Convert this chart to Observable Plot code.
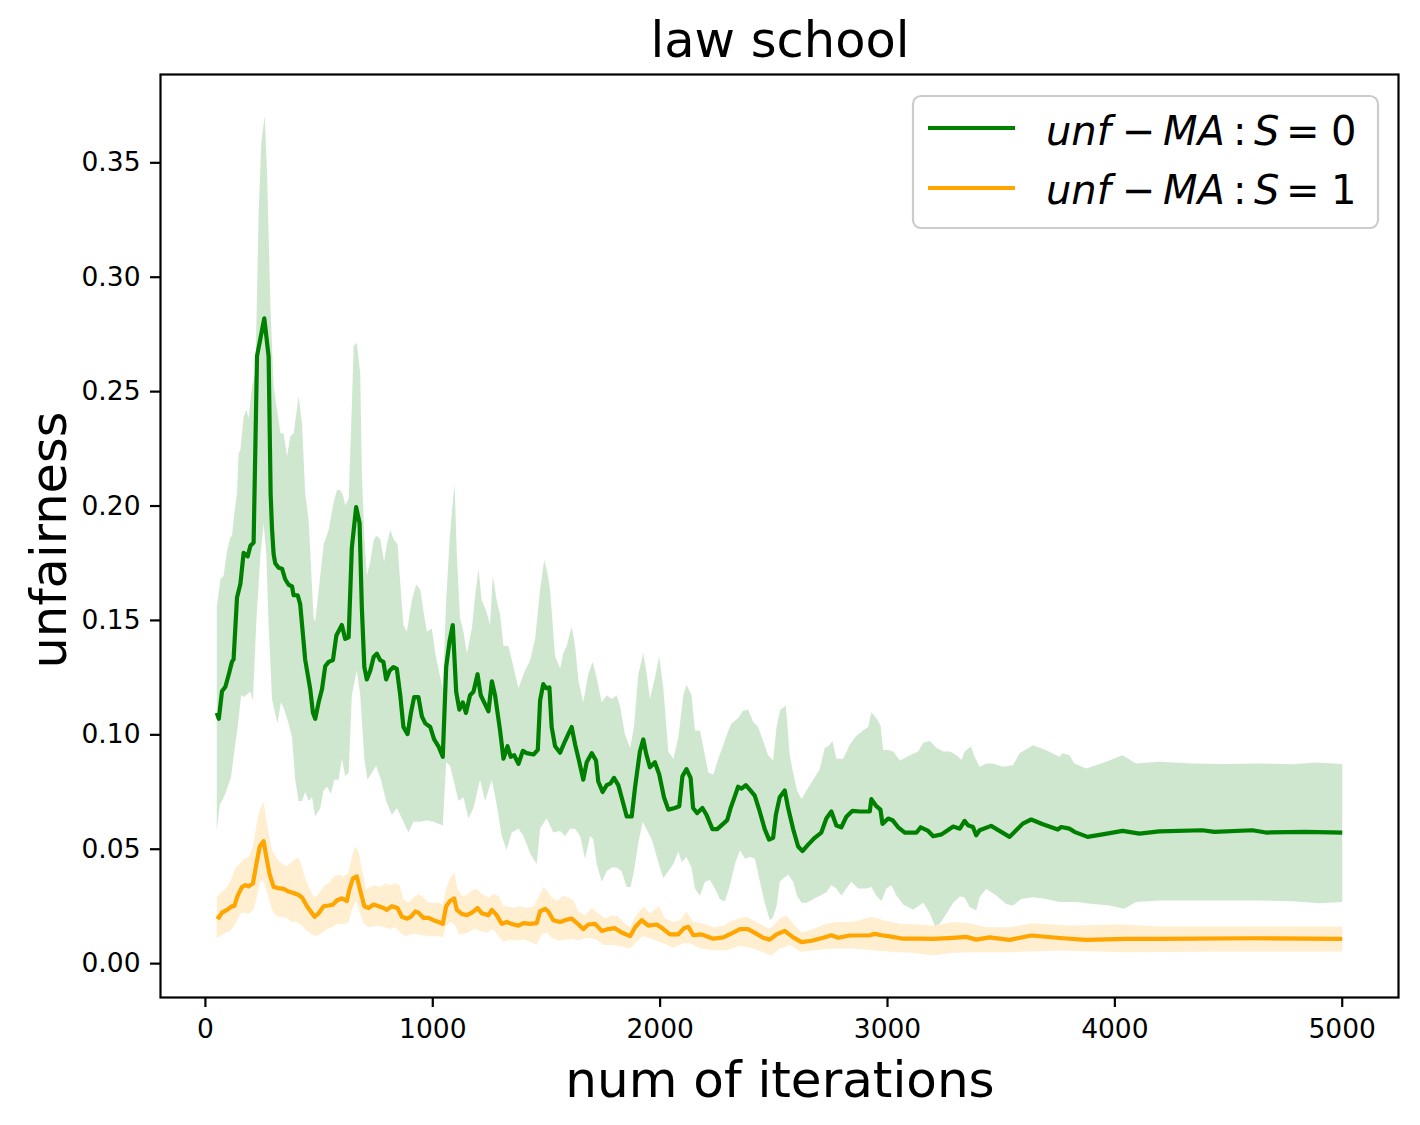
<!DOCTYPE html>
<html>
<head>
<meta charset="utf-8">
<script src="https://cdn.jsdelivr.net/npm/d3@7"></script>
<script src="https://cdn.jsdelivr.net/npm/@observablehq/plot@0.6"></script>
<style>
  html, body { margin: 0; padding: 0; background: white; }
  #wrap { position: relative; width: 1420px; height: 1125px; font-family: "DejaVu Sans", sans-serif; }
  #wrap svg.overlay { position: absolute; left: 0; top: 0; pointer-events: none; }
</style>
</head>
<body>
<div id="wrap"></div>
<script>
// ---- data ----
const greenIter = [50,59,73,88,103,117,124,139,154,168,186,198,212,227,259,278,287,293,300,307,322,337,351,366,381,388,406,417,439,461,473,483,498,513,527,542,561,576,600,615,630,644,663,678,688,699,710,725,740,754,769,783,795,810,827,842,857,871,889,904,918,937,952,967,989,1006,1025,1044,1059,1074,1088,1103,1117,1132,1146,1164,1179,1197,1211,1226,1245,1260,1274,1296,1311,1329,1343,1358,1377,1396,1413,1443,1462,1472,1486,1498,1513,1523,1538,1560,1582,1596,1611,1626,1641,1662,1677,1699,1718,1728,1747,1765,1782,1797,1816,1835,1853,1875,1890,1911,1926,1938,1955,1977,1996,2017,2036,2065,2084,2098,2116,2134,2145,2163,2186,2204,2230,2251,2277,2295,2310,2324,2343,2358,2377,2397,2416,2438,2460,2479,2497,2509,2526,2548,2563,2585,2607,2626,2651,2680,2709,2731,2753,2775,2797,2819,2846,2878,2922,2929,2951,2969,2978,3003,3022,3047,3076,3128,3146,3179,3201,3238,3260,3289,3318,3339,3354,3376,3390,3405,3456,3500,3537,3566,3595,3632,3683,3749,3764,3800,3822,3880,3946,4034,4108,4195,4386,4437,4605,4664,4840,5000];
const greenMean = [0.1096,0.107,0.119,0.121,0.1265,0.132,0.133,0.160,0.166,0.1795,0.178,0.1826,0.184,0.2655,0.282,0.2655,0.205,0.19,0.179,0.175,0.173,0.1726,0.168,0.1656,0.1649,0.161,0.161,0.157,0.1327,0.120,0.1096,0.107,0.1142,0.120,0.130,0.1319,0.1327,0.1434,0.148,0.1419,0.1426,0.1818,0.1995,0.1926,0.1557,0.1296,0.1242,0.128,0.134,0.1355,0.1326,0.1319,0.1242,0.128,0.1296,0.1288,0.1173,0.1034,0.1003,0.1096,0.1165,0.1165,0.1081,0.105,0.1034,0.098,0.095,0.0904,0.1296,0.1411,0.148,0.1188,0.111,0.1142,0.1096,0.1173,0.1188,0.1265,0.1173,0.1142,0.1103,0.1234,0.1173,0.1019,0.0896,0.095,0.0904,0.0911,0.0873,0.093,0.092,0.0914,0.0934,0.115,0.1222,0.1204,0.1207,0.1034,0.095,0.0922,0.0973,0.1003,0.1034,0.0958,0.0896,0.0804,0.088,0.092,0.0888,0.0796,0.075,0.078,0.0788,0.0812,0.078,0.0711,0.0643,0.0643,0.0773,0.0927,0.098,0.092,0.0858,0.088,0.0827,0.0727,0.0673,0.068,0.0688,0.0819,0.085,0.0812,0.068,0.0658,0.068,0.065,0.0588,0.0588,0.0611,0.0627,0.068,0.0719,0.0773,0.0765,0.078,0.0757,0.0734,0.0665,0.0588,0.0542,0.055,0.065,0.0727,0.0757,0.068,0.0588,0.0512,0.0492,0.052,0.055,0.0573,0.0634,0.0665,0.0604,0.0596,0.0642,0.0668,0.0665,0.0665,0.0719,0.0688,0.0673,0.0611,0.0634,0.0627,0.0596,0.0573,0.0573,0.0596,0.058,0.0557,0.0565,0.058,0.0599,0.059,0.0624,0.0605,0.0597,0.0561,0.0583,0.0602,0.0576,0.0554,0.0583,0.0612,0.063,0.0609,0.0586,0.0597,0.059,0.0576,0.0554,0.0565,0.058,0.0568,0.0578,0.0583,0.0576,0.0583,0.0573,0.0576,0.0573];

const greenHiIter = [50,66,80,95,110,117,126,139,146,154,168,180,190,205,220,234,246,261,271,286,300,315,330,344,359,373,388,410,425,439,454,476,483,498,520,527,542,564,579,593,605,615,630,644,652,666,681,688,699,710,725,740,751,769,786,798,813,827,845,857,871,886,908,927,945,959,974,996,1011,1030,1044,1059,1074,1088,1096,1106,1120,1135,1150,1172,1186,1201,1215,1235,1252,1264,1281,1296,1311,1333,1355,1377,1399,1428,1450,1472,1490,1504,1516,1538,1560,1574,1589,1611,1626,1641,1662,1684,1703,1721,1743,1765,1787,1809,1823,1845,1868,1885,1904,1926,1941,1955,1977,1996,2014,2036,2058,2080,2102,2116,2138,2153,2175,2197,2212,2234,2256,2278,2300,2314,2343,2363,2387,2409,2431,2453,2475,2497,2512,2529,2553,2570,2585,2602,2622,2644,2673,2702,2724,2739,2758,2775,2805,2834,2863,2893,2915,2929,2951,2969,2981,3003,3025,3055,3099,3135,3157,3186,3216,3245,3274,3304,3325,3339,3354,3368,3383,3405,3434,3464,3508,3552,3581,3640,3698,3757,3771,3800,3822,3874,3961,4034,4093,4195,4342,4488,4635,4782,4884,5000];
const greenHi = [0.1557,0.168,0.1695,0.1803,0.1864,0.187,0.196,0.2055,0.223,0.2245,0.239,0.242,0.2384,0.2523,0.258,0.328,0.359,0.3706,0.3457,0.2873,0.2523,0.242,0.2318,0.2318,0.2216,0.2304,0.2318,0.248,0.236,0.2055,0.194,0.151,0.1495,0.163,0.1833,0.185,0.1895,0.2018,0.207,0.207,0.2048,0.2002,0.2033,0.2435,0.27,0.2712,0.258,0.215,0.186,0.1695,0.1756,0.185,0.187,0.1856,0.1756,0.1833,0.1895,0.1856,0.1833,0.1664,0.148,0.145,0.1588,0.1657,0.1634,0.1542,0.145,0.1465,0.1357,0.1265,0.1204,0.1588,0.185,0.2018,0.2095,0.1787,0.151,0.145,0.1357,0.1465,0.1603,0.1726,0.1588,0.1542,0.148,0.1695,0.1588,0.1526,0.1388,0.1388,0.1296,0.1204,0.1265,0.1326,0.1419,0.1634,0.1764,0.171,0.1634,0.1342,0.129,0.1357,0.1388,0.1472,0.1388,0.1234,0.1142,0.1265,0.1319,0.1249,0.1142,0.1173,0.1157,0.1173,0.1127,0.1004,0.0942,0.1034,0.1265,0.1357,0.1265,0.1157,0.1249,0.1342,0.1203,0.0927,0.0896,0.0988,0.1173,0.1219,0.1173,0.1019,0.1019,0.0911,0.0834,0.0827,0.0896,0.0957,0.1019,0.105,0.1073,0.1104,0.1111,0.1057,0.1034,0.0973,0.0911,0.0888,0.1034,0.1111,0.1127,0.0911,0.0834,0.0758,0.0719,0.0758,0.0804,0.085,0.0942,0.0949,0.0973,0.0896,0.0896,0.0957,0.0996,0.1019,0.1034,0.1099,0.1073,0.1042,0.0934,0.0934,0.0927,0.0888,0.0911,0.0927,0.0965,0.0973,0.0942,0.0927,0.0927,0.0911,0.089,0.0926,0.094,0.0948,0.0904,0.086,0.0875,0.0875,0.086,0.0868,0.0919,0.0955,0.0933,0.0904,0.0919,0.0911,0.0875,0.0853,0.0882,0.0911,0.0875,0.0882,0.0875,0.0872,0.0875,0.0871,0.0879,0.0872];

const greenLoIter = [50,63,73,88,103,113,127,142,157,171,186,198,209,224,242,256,268,278,293,303,317,332,347,366,381,395,410,425,439,454,469,483,505,520,535,552,567,586,600,615,630,644,666,681,699,713,732,751,772,795,820,842,864,893,915,945,974,1003,1044,1059,1076,1091,1113,1135,1157,1179,1208,1230,1260,1281,1303,1325,1347,1377,1399,1428,1457,1472,1501,1530,1560,1582,1604,1626,1648,1670,1692,1706,1721,1743,1765,1787,1809,1831,1853,1870,1885,1904,1923,1944,1963,1977,1999,2014,2036,2058,2080,2095,2116,2138,2153,2175,2197,2219,2241,2263,2285,2307,2329,2351,2373,2395,2417,2439,2460,2483,2497,2512,2526,2543,2563,2585,2602,2622,2644,2673,2702,2731,2753,2775,2797,2819,2841,2871,2907,2929,2951,2973,2995,3017,3040,3069,3113,3157,3186,3208,3230,3260,3289,3318,3339,3361,3390,3405,3434,3478,3522,3552,3588,3640,3698,3757,3830,3903,3976,4042,4093,4195,4342,4488,4635,4782,4899,5000];
const greenLo = [0.0581,0.0696,0.0712,0.0742,0.0788,0.0819,0.0927,0.1034,0.1173,0.1165,0.118,0.1188,0.115,0.1495,0.1787,0.1925,0.1787,0.148,0.1157,0.111,0.105,0.1142,0.111,0.105,0.0988,0.0804,0.0711,0.0711,0.075,0.0711,0.0727,0.0643,0.068,0.0757,0.0773,0.0742,0.0804,0.0804,0.0896,0.0819,0.0834,0.1173,0.128,0.1173,0.0896,0.0804,0.0834,0.0865,0.0804,0.0711,0.065,0.068,0.0635,0.0573,0.062,0.062,0.0627,0.062,0.0604,0.088,0.0865,0.0804,0.0711,0.0727,0.0635,0.068,0.0804,0.0711,0.0804,0.0696,0.0558,0.0497,0.0573,0.0589,0.0558,0.0481,0.0435,0.0589,0.0635,0.0573,0.058,0.0558,0.0589,0.0589,0.0558,0.0458,0.0558,0.0542,0.0435,0.0358,0.0404,0.042,0.042,0.0404,0.0335,0.0335,0.0404,0.0527,0.062,0.0581,0.0542,0.0496,0.042,0.0374,0.0404,0.0435,0.0489,0.0443,0.0466,0.042,0.0328,0.0297,0.0358,0.0366,0.0328,0.0281,0.0273,0.0343,0.0435,0.0496,0.0458,0.0466,0.0458,0.0358,0.0266,0.0189,0.0204,0.025,0.0358,0.0374,0.0389,0.0358,0.0297,0.0266,0.0266,0.0281,0.0297,0.0312,0.0343,0.0328,0.0297,0.0328,0.0358,0.0328,0.0328,0.0335,0.0297,0.0273,0.0328,0.0343,0.0297,0.0258,0.0235,0.0266,0.022,0.0166,0.0174,0.022,0.0266,0.0293,0.029,0.0247,0.0232,0.029,0.0327,0.0298,0.0261,0.0254,0.0283,0.029,0.0283,0.0269,0.0269,0.0261,0.0254,0.024,0.0269,0.0276,0.0276,0.0276,0.0276,0.0273,0.0264,0.0269];

const orangeIter = [50,59,73,95,117,127,142,161,176,190,209,224,239,256,268,283,300,322,344,366,388,410,425,447,469,480,498,520,542,561,579,600,622,634,649,666,681,699,718,740,762,784,798,820,845,864,886,904,923,937,959,981,1003,1025,1044,1059,1076,1094,1106,1128,1150,1172,1197,1216,1245,1260,1281,1303,1325,1355,1377,1399,1428,1457,1472,1494,1508,1530,1560,1582,1611,1641,1662,1684,1714,1743,1772,1801,1831,1868,1890,1919,1948,1985,2014,2043,2080,2105,2124,2146,2182,2204,2234,2278,2321,2351,2387,2424,2453,2482,2512,2548,2585,2622,2666,2717,2753,2783,2834,2922,2944,2973,3003,3069,3142,3201,3289,3347,3390,3449,3537,3632,3757,3874,4049,4195,4605,5000];
const orangeMean = [0.0208,0.0201,0.0223,0.0235,0.0251,0.0251,0.0297,0.0335,0.0343,0.0338,0.035,0.0435,0.0512,0.0535,0.0466,0.0389,0.0335,0.033,0.0327,0.0315,0.0309,0.03,0.0289,0.0251,0.022,0.0205,0.022,0.0251,0.0254,0.0258,0.0277,0.0285,0.0274,0.0327,0.0373,0.0381,0.032,0.0251,0.0243,0.0258,0.0251,0.0243,0.0235,0.0251,0.0243,0.0205,0.0197,0.0205,0.0228,0.0223,0.02,0.02,0.019,0.0182,0.0174,0.0251,0.0274,0.0285,0.0235,0.0217,0.0212,0.0223,0.0243,0.022,0.0212,0.0235,0.0212,0.0174,0.0182,0.0171,0.0166,0.0177,0.0174,0.0177,0.0228,0.0239,0.0228,0.019,0.0182,0.019,0.0197,0.0171,0.0151,0.0171,0.0174,0.0143,0.0151,0.0155,0.0136,0.012,0.0159,0.019,0.0166,0.0171,0.0151,0.0128,0.0128,0.0155,0.0161,0.0124,0.0128,0.012,0.0109,0.0115,0.0136,0.0151,0.0151,0.013,0.0113,0.0105,0.0128,0.0143,0.0115,0.0094,0.01,0.0113,0.0124,0.0113,0.0123,0.0124,0.013,0.0124,0.012,0.0109,0.0109,0.0108,0.0113,0.0117,0.0105,0.0115,0.0104,0.0123,0.0112,0.0104,0.0108,0.0108,0.0111,0.0108];

const orangeHiIter = [50,69,88,110,132,151,168,190,209,227,242,256,274,293,315,337,359,381,403,417,439,461,479,498,523,542,564,586,608,630,644,659,674,688,707,725,747,769,791,813,835,854,871,893,915,937,959,981,1003,1025,1044,1059,1076,1094,1109,1128,1150,1172,1194,1216,1245,1267,1289,1311,1333,1355,1384,1413,1443,1465,1486,1501,1523,1545,1574,1596,1618,1641,1670,1699,1728,1758,1787,1816,1845,1868,1890,1926,1955,1996,2021,2058,2087,2116,2146,2190,2234,2278,2321,2380,2424,2482,2526,2556,2585,2622,2673,2731,2775,2849,2929,2981,3055,3142,3201,3289,3361,3434,3537,3640,3800,4034,4195,4488,4782,5000];
const orangeHi = [0.0289,0.0312,0.0327,0.0358,0.042,0.0435,0.0458,0.0466,0.0512,0.0619,0.0681,0.0704,0.0589,0.0496,0.0458,0.0435,0.0427,0.0443,0.0466,0.045,0.0373,0.032,0.0289,0.0304,0.0343,0.035,0.0381,0.0389,0.0381,0.0397,0.0466,0.0512,0.0489,0.0412,0.0327,0.0335,0.0343,0.0335,0.035,0.0343,0.035,0.0343,0.0281,0.0266,0.0289,0.0304,0.0289,0.0266,0.0266,0.0266,0.0258,0.0327,0.0373,0.0397,0.0327,0.0297,0.03,0.032,0.0327,0.0304,0.0289,0.0304,0.0297,0.0251,0.0251,0.0243,0.0251,0.0243,0.0251,0.0289,0.0335,0.032,0.0289,0.0274,0.0297,0.0289,0.0277,0.0228,0.0212,0.0243,0.022,0.0197,0.0212,0.0205,0.0174,0.0159,0.0205,0.0251,0.022,0.0251,0.0197,0.0182,0.019,0.0228,0.0182,0.0174,0.0159,0.0166,0.019,0.0205,0.0182,0.0151,0.0197,0.0212,0.0174,0.0136,0.0151,0.0174,0.0182,0.0182,0.0205,0.019,0.0174,0.0171,0.0166,0.0182,0.0177,0.0159,0.0159,0.0177,0.0167,0.0171,0.0162,0.0162,0.0162,0.0162];

const orangeLoIter = [50,66,88,110,132,154,171,190,212,227,242,256,271,293,315,337,359,381,403,425,447,469,491,513,535,557,579,605,630,644,663,678,696,718,740,762,786,813,835,857,879,904,930,959,989,1018,1044,1059,1079,1098,1113,1135,1157,1186,1208,1238,1264,1289,1311,1340,1369,1399,1428,1457,1479,1501,1523,1552,1582,1611,1640,1677,1721,1750,1794,1838,1868,1897,1926,1970,2014,2058,2102,2131,2175,2234,2292,2351,2409,2460,2490,2526,2570,2622,2673,2761,2849,2936,3025,3113,3201,3289,3390,3537,3757,4049,4488,5000];
const orangeLo = [0.0113,0.012,0.0136,0.0143,0.0174,0.022,0.0223,0.0217,0.0235,0.0297,0.0358,0.0366,0.0312,0.0235,0.0205,0.0205,0.0197,0.0182,0.0182,0.0166,0.0143,0.0128,0.012,0.0136,0.0151,0.0159,0.0174,0.0171,0.0182,0.0235,0.0274,0.0228,0.0174,0.0159,0.0162,0.0166,0.0159,0.0151,0.0159,0.0136,0.012,0.0128,0.013,0.0123,0.012,0.012,0.0115,0.0166,0.0182,0.0171,0.0128,0.013,0.0136,0.0155,0.0143,0.0136,0.0151,0.012,0.0097,0.0105,0.01,0.0105,0.0097,0.0082,0.0128,0.0136,0.0113,0.01,0.0105,0.0109,0.0101,0.0113,0.0105,0.0082,0.0082,0.0074,0.0066,0.0097,0.012,0.0105,0.0089,0.0069,0.0089,0.0089,0.0066,0.0058,0.0058,0.0078,0.0066,0.0048,0.0036,0.0066,0.0082,0.0051,0.0058,0.0066,0.0066,0.0058,0.0051,0.0048,0.0036,0.0048,0.005,0.005,0.0057,0.005,0.0053,0.0053];

const xTicks = [0, 1000, 2000, 3000, 4000, 5000];
const yTicks = [0, 0.05, 0.10, 0.15, 0.20, 0.25, 0.30, 0.35];
const titleText = "law school";
const xLabel = "num of iterations";
const yLabel = "unfairness";
const seriesColors = ["green", "orange"];
const legendDigits = ["0", "1"];

// ---- build rows ----
const rows = (xs, ys) => xs.map((x, i) => ({iter: x, v: ys[i]}));
const band = (hx, hy, lx, ly) => rows(hx, hy).concat(rows(lx, ly).reverse());

const greenLine = rows(greenIter, greenMean);
const orangeLine = rows(orangeIter, orangeMean);
const greenBand = band(greenHiIter, greenHi, greenLoIter, greenLo);
const orangeBand = band(orangeHiIter, orangeHi, orangeLoIter, orangeLo);

const chart = Plot.plot({
  width: 1420,
  height: 1125,
  marginLeft: 160,
  marginRight: 22,
  marginTop: 74,
  marginBottom: 128,
  style: {fontFamily: "DejaVu Sans", fontSize: "26.5px", background: "white", color: "black"},
  x: {domain: [-197.5, 5247.5]},
  y: {domain: [-0.0148, 0.3886]},
  marks: [
    Plot.line(greenLine, {x: "iter", y: "v", stroke: seriesColors[0], strokeWidth: 4.2, strokeLinejoin: "round", strokeLinecap: "butt"}),
    Plot.line(greenBand, {x: "iter", y: "v", fill: seriesColors[0], fillOpacity: 0.19, stroke: "none"}),
    Plot.line(orangeLine, {x: "iter", y: "v", stroke: seriesColors[1], strokeWidth: 4.2, strokeLinejoin: "round", strokeLinecap: "butt"}),
    Plot.line(orangeBand, {x: "iter", y: "v", fill: seriesColors[1], fillOpacity: 0.19, stroke: "none"}),
    Plot.frame({stroke: "black", strokeWidth: 2.2}),
    Plot.axisX({ticks: xTicks, tickFormat: d => String(d), tickSize: 10, tickPadding: 12, fontSize: 26.5, strokeWidth: 2.2, label: null}),
    Plot.axisY({ticks: yTicks, tickFormat: d => d.toFixed(2), tickSize: 10, tickPadding: 10, fontSize: 26.5, strokeWidth: 2.2, label: null})
  ]
});

const wrap = document.getElementById("wrap");
wrap.appendChild(chart);

// ---- overlay: title, axis labels, legend ----
const NS = "http://www.w3.org/2000/svg";
const ov = document.createElementNS(NS, "svg");
ov.setAttribute("class", "overlay");
ov.setAttribute("width", 1420);
ov.setAttribute("height", 1125);
ov.setAttribute("font-family", "DejaVu Sans");
wrap.appendChild(ov);

function el(tag, attrs, text) {
  const e = document.createElementNS(NS, tag);
  for (const k in attrs) e.setAttribute(k, attrs[k]);
  if (text !== undefined) e.textContent = text;
  ov.appendChild(e);
  return e;
}

el("text", {x: 780, y: 57, "text-anchor": "middle", "font-size": 49.5, fill: "black"}, titleText);
el("text", {x: 780, y: 1097, "text-anchor": "middle", "font-size": 50, fill: "black"}, xLabel);
el("text", {transform: "translate(66,540) rotate(-90)", "text-anchor": "middle", "font-size": 49.5, fill: "black"}, yLabel);

// legend box
el("rect", {x: 913, y: 96, width: 465, height: 132, rx: 8, ry: 8, fill: "white", "fill-opacity": 0.8, stroke: "#cccccc", "stroke-width": 2.2});
const rowsY = [128, 188];
const baseY = [144.5, 204];
for (let i = 0; i < 2; i++) {
  el("line", {x1: 928, x2: 1015, y1: rowsY[i], y2: rowsY[i], stroke: seriesColors[i], "stroke-width": 4.2});
  const t = el("text", {y: baseY[i], "font-size": 40, fill: "black"});
  const parts = [
    ["unf", 1046, "italic"],
    ["\u2212", 1122, "normal"],
    ["MA", 1163, "italic"],
    [":", 1233, "normal"],
    ["S", 1254, "italic"],
    ["=", 1286, "normal"],
    [legendDigits[i], 1331, "normal"]
  ];
  for (const [s, x, st] of parts) {
    const sp = document.createElementNS(NS, "tspan");
    sp.setAttribute("x", x);
    sp.setAttribute("font-style", st);
    sp.textContent = s;
    t.appendChild(sp);
  }
}
</script>
</body>
</html>
